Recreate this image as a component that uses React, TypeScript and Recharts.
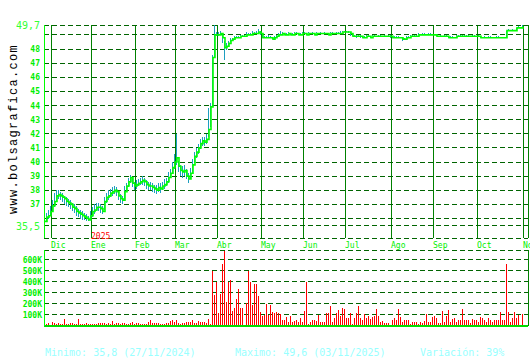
import { ComposedChart, CartesianGrid, XAxis, YAxis, Bar, Line } from "recharts";

const monthTicks = [3, 23, 45, 65, 86, 108, 129, 150, 173, 194, 216, 239];
const monthLabels = ["Dic", "Ene", "Feb", "Mar", "Abr", "May", "Jun", "Jul", "Ago", "Sep", "Oct", "Nov"];

const priceTicks = [35.5, 36, 37, 38, 39, 40, 41, 42, 43, 44, 45, 46, 47, 48, 49, 49.7];
const volumeTicks = [100, 200, 300, 400, 500, 600];

// cierre diario (27/11/2024 .. 03/11/2025)
const closes = [
  35.8, 36.1, 36.2, 36.5, 36.9, 37.2, 37.6, 37.7, 37.6, 37.5,
  37.4, 37.2, 37.1, 37.0, 36.8, 36.7, 36.5, 36.4, 36.3, 36.2,
  36.1, 36.0, 35.9, 36.2, 36.5, 36.6, 36.8, 36.8, 36.7, 36.5,
  37.2, 37.5, 37.6, 37.8, 37.9, 38.0, 37.9, 37.6, 37.4, 37.3,
  37.9, 38.3, 38.6, 38.9, 38.5, 38.3, 38.4, 38.5, 38.6, 38.7,
  38.6, 38.4, 38.3, 38.3, 38.2, 38.1, 38.0, 38.2, 38.1, 38.3,
  38.4, 38.6, 38.9, 39.2, 39.6, 40.0, 40.3, 39.7, 39.4, 39.3,
  39.4, 39.0, 38.8, 39.2, 39.8, 40.4, 40.7, 41.0, 41.3, 41.5,
  41.4, 41.6, 42.3, 43.9, 47.4, 49.0, 49.0, 49.0, 49.1, 48.8,
  48.1, 48.2, 48.4, 48.6, 48.7, 48.8, 48.8, 48.8, 48.9, 48.9,
  48.9, 49.0, 49.0, 49.0, 49.1, 49.1, 49.1, 49.2, 49.1, 48.8,
  48.8, 48.8, 48.8, 48.8, 48.7, 48.8, 48.9, 49.0, 49.0, 49.1,
  49.0, 49.0, 49.1, 49.0, 49.0, 49.1, 49.1, 49.0, 49.0, 49.1,
  49.1, 49.0, 49.1, 49.1, 49.1, 49.0, 49.1, 49.1, 49.1, 49.1,
  49.1, 49.1, 49.0, 49.1, 49.1, 49.1, 49.1, 49.1, 49.1, 49.2,
  49.2, 49.2, 49.2, 49.1, 48.9, 48.9, 48.9, 48.9, 48.9, 48.8,
  48.8, 48.9, 48.9, 48.8, 48.9, 48.9, 48.9, 48.9, 48.9, 48.9,
  48.9, 48.9, 48.9, 48.9, 48.8, 48.8, 48.8, 48.8, 48.8, 48.7,
  48.7, 48.8, 48.8, 48.9, 48.9, 48.9, 48.9, 49.0, 49.0, 49.0,
  49.0, 49.0, 49.0, 49.0, 49.0, 49.0, 48.9, 48.9, 48.9, 48.9,
  48.9, 48.9, 48.8, 48.8, 48.8, 48.8, 48.9, 48.9, 48.9, 48.9,
  48.9, 48.9, 48.9, 48.9, 48.9, 48.9, 48.9, 48.9, 48.8, 48.8,
  48.8, 48.8, 48.8, 48.8, 48.8, 48.8, 48.8, 48.8, 48.8, 48.8,
  48.8, 49.3, 49.3, 49.3, 49.3, 49.3, 49.5, 49.5, 49.5, 49.6,
];

const highs = [
  36.3, 36.4, 36.6, 36.9, 37.3, 37.8, 38.0, 38.0, 37.9, 37.8,
  37.6, 37.5, 37.4, 37.3, 37.1, 37.0, 36.9, 36.7, 36.6, 36.5,
  36.4, 36.3, 36.2, 36.5, 36.8, 37.0, 37.1, 37.1, 37.0, 36.9,
  37.5, 37.8, 38.0, 38.1, 38.2, 38.3, 38.2, 37.9, 37.7, 37.6,
  38.3, 38.5, 38.9, 39.1, 38.9, 38.6, 38.7, 38.8, 38.9, 39.0,
  38.9, 38.7, 38.6, 38.6, 38.5, 38.4, 38.4, 38.5, 38.5, 38.6,
  38.8, 38.9, 39.3, 39.5, 40.0, 40.6, 42.0, 40.1, 39.8, 39.7,
  39.8, 39.5, 39.2, 39.6, 40.2, 40.7, 41.0, 41.3, 41.6, 41.8,
  41.8, 42.0, 43.8, 44.2, 47.6, 49.7, 49.2, 49.2, 49.3, 49.1,
  48.6, 48.4, 48.6, 48.8, 48.8, 48.9, 48.9, 48.9, 49.0, 49.0,
  49.0, 49.2, 49.1, 49.1, 49.3, 49.2, 49.3, 49.4, 49.3, 49.1,
  48.9, 48.9, 49.0, 48.9, 48.8, 48.9, 49.0, 49.1, 49.3, 49.2,
  49.1, 49.1, 49.2, 49.1, 49.1, 49.2, 49.2, 49.1, 49.1, 49.2,
  49.2, 49.1, 49.2, 49.1, 49.2, 49.1, 49.2, 49.1, 49.2, 49.1,
  49.2, 49.1, 49.1, 49.2, 49.2, 49.1, 49.2, 49.2, 49.3, 49.3,
  49.3, 49.3, 49.3, 49.2, 49.1, 49.0, 49.0, 49.0, 49.0, 48.9,
  48.9, 49.0, 49.0, 48.9, 49.0, 49.0, 48.9, 49.0, 49.0, 48.9,
  49.0, 48.9, 49.0, 49.0, 48.9, 48.9, 48.9, 48.9, 48.8, 48.8,
  48.8, 48.9, 48.9, 49.0, 49.0, 49.0, 49.0, 49.1, 49.0, 49.1,
  49.1, 49.0, 49.1, 49.1, 49.0, 49.0, 49.0, 48.9, 49.0, 48.9,
  49.0, 49.0, 48.9, 48.9, 48.9, 48.8, 49.0, 49.0, 49.0, 49.0,
  49.0, 49.0, 49.0, 48.9, 49.0, 49.0, 48.9, 49.0, 48.9, 48.8,
  48.9, 48.8, 48.9, 48.9, 48.8, 48.8, 48.9, 48.9, 48.8, 48.8,
  48.8, 49.3, 49.4, 49.3, 49.4, 49.3, 49.5, 49.6, 49.5, 49.7,
];

const lows = [
  35.6, 35.8, 36.0, 36.2, 36.5, 36.8, 37.2, 37.4, 37.3, 37.2,
  37.0, 36.9, 36.8, 36.7, 36.5, 36.4, 36.2, 36.1, 36.0, 35.9,
  35.9, 35.8, 35.8, 35.9, 36.1, 36.3, 36.5, 36.5, 36.4, 36.3,
  36.6, 37.1, 37.3, 37.5, 37.6, 37.7, 37.6, 37.3, 37.1, 37.0,
  37.4, 37.9, 38.2, 38.5, 38.2, 38.0, 38.1, 38.3, 38.4, 38.4,
  38.3, 38.1, 38.0, 38.0, 37.9, 37.8, 37.7, 37.9, 37.8, 38.0,
  38.1, 38.3, 38.5, 38.9, 39.2, 39.5, 39.8, 39.3, 39.0, 38.9,
  39.0, 38.8, 38.5, 38.8, 39.2, 39.9, 40.3, 40.6, 40.9, 41.1,
  41.1, 41.3, 41.8, 42.5, 43.9, 47.4, 48.9, 48.9, 49.0, 48.4,
  47.2, 47.9, 48.2, 48.5, 48.6, 48.8, 48.8, 48.8, 48.9, 48.9,
  48.9, 49.0, 49.0, 49.0, 49.0, 49.1, 49.1, 49.1, 49.0, 48.8,
  48.8, 48.8, 48.8, 48.8, 48.7, 48.7, 48.8, 48.9, 49.0, 49.0,
  49.0, 49.0, 49.1, 49.0, 49.0, 49.1, 49.1, 49.0, 49.0, 49.1,
  49.1, 49.0, 49.1, 49.1, 49.1, 49.0, 49.1, 49.1, 49.1, 49.1,
  49.1, 49.1, 49.0, 49.1, 49.1, 49.1, 49.1, 49.1, 49.1, 49.2,
  49.2, 49.2, 49.1, 48.9, 48.9, 48.9, 48.8, 48.9, 48.8, 48.8,
  48.8, 48.9, 48.9, 48.8, 48.9, 48.9, 48.9, 48.9, 48.9, 48.9,
  48.9, 48.9, 48.9, 48.8, 48.8, 48.8, 48.8, 48.8, 48.8, 48.6,
  48.7, 48.8, 48.8, 48.9, 48.9, 48.9, 48.9, 49.0, 49.0, 49.0,
  49.0, 49.0, 49.0, 49.0, 49.0, 49.0, 48.9, 48.9, 48.9, 48.9,
  48.9, 48.9, 48.8, 48.8, 48.8, 48.8, 48.9, 48.9, 48.9, 48.9,
  48.9, 48.9, 48.9, 48.9, 48.9, 48.9, 48.9, 48.9, 48.8, 48.8,
  48.8, 48.8, 48.8, 48.8, 48.8, 48.8, 48.8, 48.8, 48.8, 48.8,
  48.8, 48.8, 49.3, 49.3, 49.3, 49.3, 49.3, 49.5, 49.5, 49.5,
];

// volumen en miles
const volumes = [
  18, 18, 27, 12, 36, 27, 21, 27, 21, 18,
  63, 18, 18, 27, 24, 18, 18, 63, 18, 18,
  18, 27, 18, 18, 15, 15, 18, 27, 27, 27,
  27, 21, 27, 21, 48, 18, 27, 27, 21, 27,
  27, 18, 21, 27, 39, 15, 24, 27, 18, 18,
  18, 21, 33, 57, 27, 27, 27, 27, 18, 21,
  21, 27, 27, 42, 54, 39, 57, 27, 18, 27,
  30, 39, 36, 39, 57, 24, 27, 45, 39, 39,
  33, 24, 66, 18, 500, 280, 400, 120, 290, 565,
  685, 220, 400, 415, 137, 160, 245, 332, 160, 160,
  9, 205, 497, 400, 190, 380, 380, 272, 130, 87,
  100, 200, 100, 190, 130, 115, 130, 115, 110, 57,
  50, 80, 33, 92, 33, 42, 57, 33, 69, 39,
  137, 395, 18, 33, 57, 50, 42, 100, 39, 33,
  33, 115, 115, 180, 39, 75, 118, 145, 87, 165,
  150, 75, 75, 118, 15, 69, 115, 180, 75, 50,
  110, 69, 87, 63, 80, 87, 155, 90, 39, 42,
  30, 30, 30, 12, 50, 69, 57, 155, 78, 33,
  50, 57, 50, 18, 33, 39, 39, 21, 39, 30,
  45, 105, 39, 39, 80, 92, 75, 30, 30, 137,
  33, 87, 145, 33, 63, 75, 39, 50, 50, 155,
  57, 57, 50, 30, 63, 50, 57, 39, 80, 69,
  57, 39, 75, 50, 39, 57, 57, 57, 130, 57,
  57, 565, 123, 39, 75, 123, 69, 98, 9, 110,
];

const data = closes.map((c, i) => ({
  i,
  close: c,
  range: [lows[i], highs[i]],
  vol: volumes[i],
}));

const mono = "DejaVu Sans Mono, monospace";

function MonthTick(props: any) {
  const { x, payload } = props;
  const idx = monthTicks.indexOf(payload.value);
  return (
    <g>
      {idx === 1 && (
        <text x={x} y={239} fill="#ff0000" fontSize={8} fontFamily={mono}>
          2025
        </text>
      )}
      <text x={x} y={248} fill="#00ee00" fontSize={8} fontFamily={mono}>
        {monthLabels[idx]}
      </text>
    </g>
  );
}

function PriceTick(props: any) {
  const { y, payload } = props;
  const v = payload.value;
  if (v === 36 || v === 49) return null;
  const big = v === 35.5 || v === 49.7;
  return (
    <text
      x={40}
      y={y}
      dy={big ? 4 : 3}
      textAnchor="end"
      fill={big ? "#33ff33" : "#00ee00"}
      fontSize={big ? 10 : 8}
      fontWeight={big ? "normal" : "bold"}
      fontFamily={mono}
    >
      {String(v).replace(".", ",")}
    </text>
  );
}

function VolumeTick(props: any) {
  const { y, payload } = props;
  return (
    <text x={42} y={y} dy={3} textAnchor="end" fill="#00ee00" fontSize={8} fontWeight="bold" fontFamily={mono}>
      {payload.value}K
    </text>
  );
}

export default function App() {
  return (
    <div style={{ position: "absolute", left: 0, top: 0, width: 530, height: 360, background: "#fff", overflow: "hidden" }}>
      <div style={{ position: "absolute", left: 0, top: 0 }}>
        <ComposedChart width={530} height={250} data={data} margin={{ top: 25, right: 2, bottom: 0, left: 0 }}>
          <CartesianGrid horizontal={false} stroke="#008000" shapeRendering="crispEdges" />
          <CartesianGrid vertical={false} stroke="#006400" strokeDasharray="5 3" shapeRendering="crispEdges" />
          <XAxis
            dataKey="i"
            type="number"
            domain={[-0.5, 241.5]}
            ticks={monthTicks}
            interval={0}
            height={12}
            axisLine={false}
            tickLine={false}
            tick={<MonthTick />}
          />
          <YAxis
            type="number"
            domain={[34.62, 49.7]}
            ticks={priceTicks}
            interval={0}
            width={44}
            axisLine={{ stroke: "#00ff00", shapeRendering: "crispEdges" }}
            tickLine={false}
            tick={<PriceTick />}
          />
          <Bar dataKey="range" barSize={1} fill="#1e9ec0" shapeRendering="crispEdges" isAnimationActive={false} />
          <Line
            dataKey="close"
            type="stepAfter"
            stroke="#00ff00"
            strokeWidth={1.6}
            dot={false}
            isAnimationActive={false}
          />
        </ComposedChart>
      </div>
      <div style={{ position: "absolute", left: 0, top: 250 }}>
        <ComposedChart width={530} height={80} data={data} margin={{ top: 0, right: 2, bottom: 0, left: 0 }}>
          <CartesianGrid horizontal={false} stroke="#008000" shapeRendering="crispEdges" />
          <CartesianGrid vertical={false} stroke="#006400" strokeDasharray="5 3" shapeRendering="crispEdges" />
          <XAxis
            dataKey="i"
            type="number"
            domain={[-0.5, 241.5]}
            ticks={monthTicks}
            interval={0}
            height={4}
            axisLine={{ stroke: "#00dd00", strokeWidth: 2, shapeRendering: "crispEdges" }}
            tickLine={false}
            tick={false}
          />
          <YAxis
            type="number"
            domain={[0, 690]}
            ticks={volumeTicks}
            interval={0}
            width={44}
            axisLine={{ stroke: "#00ff00", shapeRendering: "crispEdges" }}
            tickLine={false}
            tick={<VolumeTick />}
          />
          <Bar dataKey="vol" barSize={1} fill="#ff0000" shapeRendering="crispEdges" isAnimationActive={false} />
        </ComposedChart>
      </div>
      <svg width={530} height={360} style={{ position: "absolute", left: 0, top: 0, pointerEvents: "none" }}>
        <text
          transform="translate(17,129) rotate(-90)"
          textAnchor="middle"
          fontSize={12}
          letterSpacing={1.3}
          fontFamily="Liberation Mono, monospace"
          fill="#000"
        >
          www.bolsagrafica.com
        </text>
        <text x={45} y={356} fontSize={10} fontFamily={mono} fill="#99ffff">
          Minimo: 35,8 (27/11/2024)
        </text>
        <text x={235} y={356} fontSize={10} fontFamily={mono} fill="#99ffff">
          Maximo: 49,6 (03/11/2025)
        </text>
        <text x={420} y={356} fontSize={10} fontFamily={mono} fill="#99ffff">
          Variación: 39%
        </text>
      </svg>
    </div>
  );
}
